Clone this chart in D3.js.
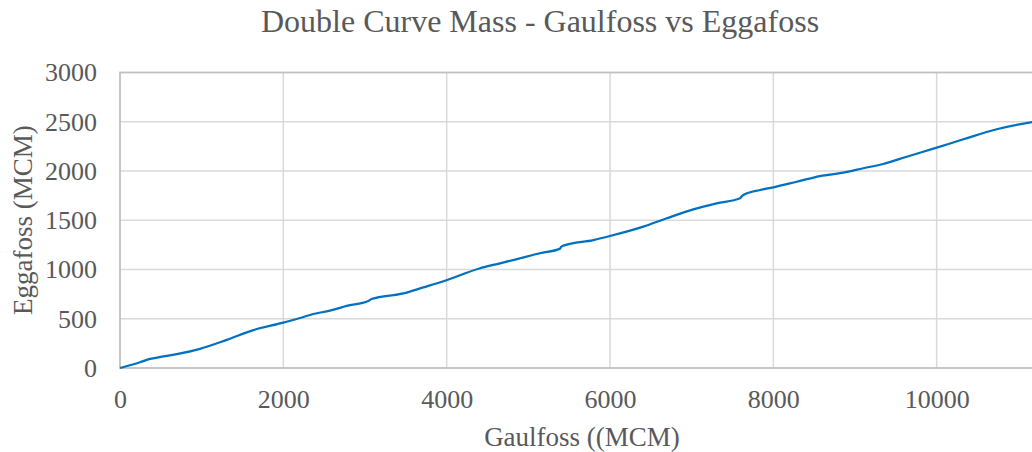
<!DOCTYPE html>
<html>
<head>
<meta charset="utf-8">
<script src="https://cdn.jsdelivr.net/npm/d3@7"></script>
<style>
  html, body { margin: 0; padding: 0; background: #fff; overflow: hidden; }
  text { font-family: "Liberation Serif", "Times New Roman", serif; fill: #595959; }
</style>
</head>
<body>
<svg id="chart" width="1032" height="452"></svg>
<script>
const gaulfoss = [0, 245, 367, 500, 694, 980, 1306, 1633, 2000, 2204, 2367, 2571, 2776, 3040, 3080, 3469, 3714, 3980, 4400, 4653, 4898, 5143, 5388, 5400, 5429, 5796, 6000, 6408, 6694, 7020, 7306, 7592, 7610, 7633, 7837, 8000, 8286, 8571, 8857, 9102, 9347, 9633, 10000, 10327, 10735, 11167, 11300];
const eggafoss = [0, 58, 92, 112, 140, 195, 285, 385, 460, 508, 548, 582, 630, 680, 700, 757, 818, 886, 1010, 1063, 1114, 1165, 1212, 1228, 1242, 1299, 1340, 1435, 1520, 1611, 1672, 1723, 1740, 1756, 1807, 1834, 1891, 1949, 1983, 2028, 2071, 2145, 2237, 2322, 2424, 2497, 2515];
const xTicks = [0, 2000, 4000, 6000, 8000, 10000];
const yTicks = [0, 500, 1000, 1500, 2000, 2500, 3000];

const title = "Double Curve Mass - Gaulfoss vs Eggafoss";
const xTitle = "Gaulfoss ((MCM)";
const yTitle = "Eggafoss (MCM)";

const svg = d3.select("#chart");
const pLeft = 120, pRight = 1100, pTop = 72.5, pBottom = 368;

const x = d3.scaleLinear().domain([0, 12000]).range([pLeft, pRight]);
const y = d3.scaleLinear().domain([0, 3000]).range([pBottom, pTop]);

// gridlines
svg.append("g").selectAll("line").data(xTicks.slice(1)).join("line")
  .attr("x1", d => x(d)).attr("x2", d => x(d))
  .attr("y1", pTop).attr("y2", pBottom)
  .attr("stroke", "#d9d9d9").attr("stroke-width", 1.5);
svg.append("g").selectAll("line").data(yTicks.slice(1, -1)).join("line")
  .attr("x1", pLeft).attr("x2", pRight)
  .attr("y1", d => y(d)).attr("y2", d => y(d))
  .attr("stroke", "#d9d9d9").attr("stroke-width", 1.5);

// border
svg.append("rect").attr("x", pLeft).attr("y", pTop)
  .attr("width", pRight - pLeft).attr("height", pBottom - pTop)
  .attr("fill", "none").attr("stroke", "#bfbfbf").attr("stroke-width", 1.75);

// axes labels via d3 axes
const xAxis = d3.axisBottom(x).tickValues(xTicks).tickSize(0).tickPadding(21.5).tickFormat(d3.format("d"));
const gx = svg.append("g").attr("transform", `translate(0,${pBottom})`).call(xAxis);
gx.select(".domain").remove();
gx.selectAll("text").style("font-family", "'Liberation Serif', 'Times New Roman', serif")
  .style("font-size", "26px").attr("fill", "#595959");

const yAxis = d3.axisLeft(y).tickValues(yTicks).tickSize(0).tickPadding(23).tickFormat(d3.format("d"));
const gy = svg.append("g").attr("transform", `translate(${pLeft},0)`).call(yAxis);
gy.select(".domain").remove();
gy.selectAll("text").style("font-family", "'Liberation Serif', 'Times New Roman', serif")
  .style("font-size", "26px").attr("fill", "#595959");

// line
const pts = gaulfoss.map((g, i) => [g, eggafoss[i]]);
svg.append("path").datum(pts)
  .attr("fill", "none").attr("stroke", "#0070c0").attr("stroke-width", 2.25)
  .attr("stroke-linejoin", "round")
  .attr("d", d3.line().x(d => x(d[0])).y(d => y(d[1])).curve(d3.curveMonotoneX));

// titles
svg.append("text").attr("x", 540).attr("y", 32).attr("text-anchor", "middle")
  .style("font-size", "32px").text(title);
svg.append("text").attr("x", 582).attr("y", 446).attr("text-anchor", "middle")
  .style("font-size", "27px").text(xTitle);
svg.append("text").attr("transform", `translate(32,220) rotate(-90)`).attr("text-anchor", "middle")
  .style("font-size", "27px").text(yTitle);
</script>
</body>
</html>
